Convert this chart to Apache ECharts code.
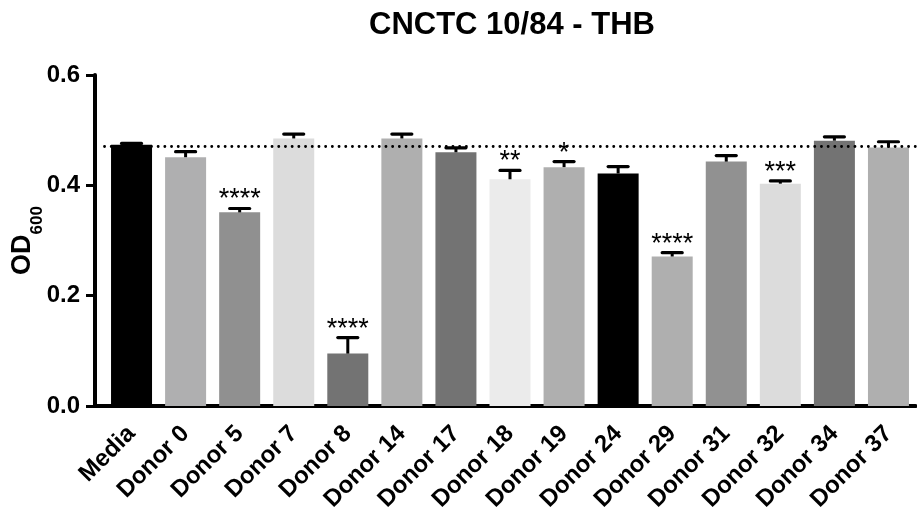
<!DOCTYPE html>
<html>
<head>
<meta charset="utf-8">
<script src="https://cdn.jsdelivr.net/npm/echarts@6/dist/echarts.min.js"></script>
<style>
  html, body { margin: 0; padding: 0; background: #fff; }
  #chart { width: 917px; height: 515px; }
</style>
</head>
<body>
<div id="chart"></div>
<script>
// Growth (OD600) of CNCTC 10/84 in THB with donor samples
const categories = ['Media', 'Donor 0', 'Donor 5', 'Donor 7', 'Donor 8', 'Donor 14', 'Donor 17',
  'Donor 18', 'Donor 19', 'Donor 24', 'Donor 29', 'Donor 31', 'Donor 32', 'Donor 34', 'Donor 37'];
const means = [0.4735, 0.451, 0.351, 0.485, 0.095, 0.485, 0.460, 0.411, 0.433, 0.4215, 0.271, 0.443, 0.403, 0.481, 0.4685];
const errors = [0.0025, 0.010, 0.007, 0.008, 0.029, 0.008, 0.008, 0.016, 0.010, 0.0125, 0.007, 0.011, 0.005, 0.007, 0.0105];
const significance = ['', '', '****', '', '****', '', '', '**', '*', '', '****', '', '***', '', ''];
const barColors = ['#000000', '#afafb0', '#909090', '#dcdcdc', '#737373', '#afafaf', '#737373',
  '#ebebeb', '#afafaf', '#000000', '#afafaf', '#919191', '#dcdcdc', '#737373', '#afafaf'];
const yTicks = [0, 0.2, 0.4, 0.6];

const FONT = "'Liberation Sans', Arial, Helvetica, sans-serif";
const GRID_LEFT = 104.5;
const Y_OFFSET = 9.5;

const chart = echarts.init(document.getElementById('chart'), null, { renderer: 'canvas' });

const errorData = categories.map((c, i) => [i, means[i], means[i] + errors[i], significance[i]]);

const option = {
  animation: false,
  backgroundColor: '#ffffff',
  title: {
    text: 'CNCTC 10/84 - THB',
    left: 364,
    top: 5,
    textStyle: { fontFamily: FONT, fontSize: 31, fontWeight: 'bold', color: '#000' }
  },
  grid: { left: GRID_LEFT, right: 1.5, top: 75, bottom: 109, containLabel: false, outerBoundsMode: 'none' },
  xAxis: {
    type: 'category',
    data: categories,
    axisLine: { lineStyle: { color: '#000', width: 4 } },
    axisTick: { alignWithLabel: true, length: 12, lineStyle: { color: '#000', width: 3 } },
    axisLabel: {
      interval: 0, rotate: 45, margin: 24, color: '#000',
      fontFamily: FONT, fontSize: 24, fontWeight: 'bold'
    }
  },
  yAxis: {
    type: 'value',
    min: yTicks[0],
    max: yTicks[yTicks.length - 1],
    interval: 0.2,
    offset: Y_OFFSET,
    name: '{a|OD}{b|600}',
    nameLocation: 'middle',
    nameRotate: 90,
    nameGap: 49,
    nameMoveOverlap: false,
    nameTextStyle: {
      rich: {
        a: { fontFamily: FONT, fontSize: 27, fontWeight: 'bold', color: '#000', verticalAlign: 'top', lineHeight: 37 },
        b: { fontFamily: FONT, fontSize: 17, fontWeight: 'bold', color: '#000', verticalAlign: 'bottom', lineHeight: 37 }
      }
    },
    splitLine: { show: false },
    axisLine: { show: true, lineStyle: { color: '#000', width: 4 } },
    axisTick: { show: true, length: 9, lineStyle: { color: '#000', width: 3 } },
    axisLabel: {
      margin: 15, color: '#000', fontFamily: FONT, fontSize: 24, fontWeight: 'bold',
      formatter: v => v.toFixed(1)
    }
  },
  series: [
    {
      type: 'bar',
      data: means.map((v, i) => ({ value: v, itemStyle: { color: barColors[i] } })),
      barWidth: 41,
      markLine: {
        silent: true,
        symbol: 'none',
        label: { show: false },
        lineStyle: { color: '#000', width: 2.8, type: [0.1, 6.6], cap: 'round' },
        data: [{ yAxis: means[0] }]
      },
      z: 2
    },
    {
      type: 'custom',
      data: errorData,
      z: 3,
      renderItem: function (params, api) {
        const x = api.value(0);
        const base = api.coord([x, api.value(1)]);
        const top = api.coord([x, api.value(2)]);
        const star = significance[params.dataIndex];
        const half = 10;
        const children = [
          { type: 'line', shape: { x1: base[0], y1: base[1], x2: top[0], y2: top[1] },
            style: { stroke: '#000', lineWidth: 3 } },
          { type: 'line', shape: { x1: top[0] - half, y1: top[1], x2: top[0] + half, y2: top[1] },
            style: { stroke: '#000', lineWidth: 3.2, lineCap: 'round' } }
        ];
        if (star) {
          children.push({
            type: 'text',
            style: {
              text: star, x: top[0], y: top[1] + 5,
              align: 'center', verticalAlign: 'bottom',
              fill: '#000', font: '27px ' + FONT
            }
          });
        }
        return { type: 'group', children: children };
      }
    }
  ]
};

chart.setOption(option);

// Continue the x-axis baseline left to meet the offset y-axis
const y0 = chart.convertToPixel({ yAxisIndex: 0 }, 0);
chart.setOption({
  graphic: [{
    type: 'line',
    shape: { x1: GRID_LEFT - Y_OFFSET - 2, y1: y0, x2: GRID_LEFT + 1, y2: y0 },
    style: { stroke: '#000', lineWidth: 4 },
    z: 10
  }]
});
</script>
</body>
</html>
